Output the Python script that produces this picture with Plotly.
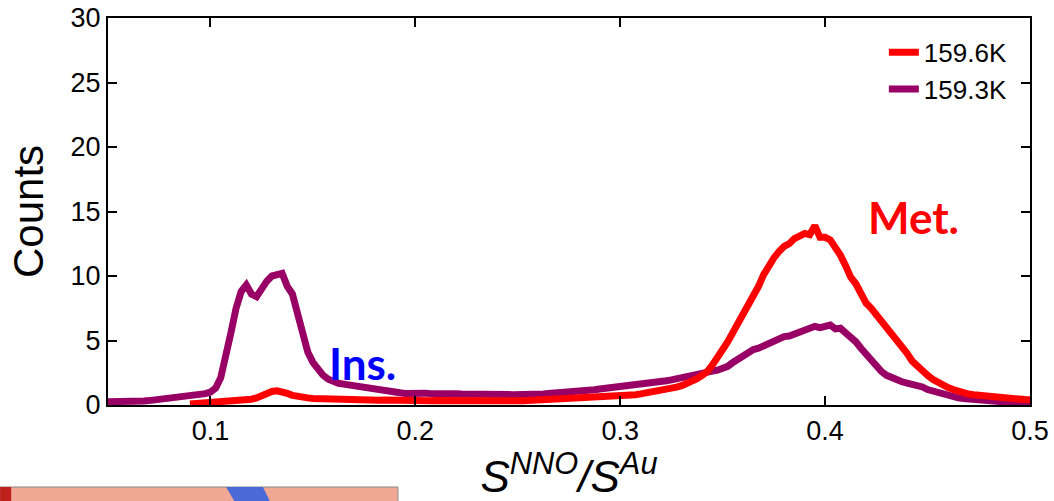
import numpy as np
import plotly.graph_objects as go

# bin centres of the histogram (S_NNO / S_Au)
ratio = np.round(np.arange(0.05, 0.50001, 0.0025), 4)

counts_159_3K = [
    0.25, 0.24, 0.26, 0.25, 0.27, 0.28, 0.30, 0.31, 0.34, 0.38,
    0.42, 0.46, 0.52, 0.55, 0.62, 0.65, 0.70, 0.74, 0.80, 0.88,
    1.0, 1.3, 2.1, 3.6, 5.6, 7.5, 8.8, 9.3, 8.6, 8.4,
    9.1, 9.6, 10.0, 10.1, 10.2, 9.2, 8.6, 7.1, 5.3, 4.1,
    3.3, 2.7, 2.3, 2.0, 1.8, 1.68, 1.62, 1.55, 1.45, 1.42,
    1.32, 1.25, 1.18, 1.12, 1.08, 1.02, 0.98, 0.95, 0.90, 0.93,
    0.95, 0.90, 0.92, 0.88, 0.90, 0.87, 0.89, 0.86, 0.88, 0.85,
    0.86, 0.84, 0.85, 0.82, 0.84, 0.81, 0.83, 0.80, 0.82, 0.79,
    0.78, 0.80, 0.76, 0.79, 0.82, 0.86, 0.90, 0.92, 0.96, 0.98,
    1.02, 1.05, 1.08, 1.12, 1.15, 1.18, 1.24, 1.28, 1.33, 1.36,
    1.40, 1.45, 1.50, 1.55, 1.60, 1.66, 1.72, 1.76, 1.82, 1.88,
    1.95, 2.02, 2.10, 2.20, 2.30, 2.28, 2.40, 2.50, 2.62, 2.70,
    2.80, 3.00, 3.30, 3.55, 3.90, 4.05, 4.30, 4.40, 4.60, 4.75,
    5.00, 5.10, 5.30, 5.35, 5.50, 5.60, 5.70, 5.90, 6.10, 6.00,
    6.10, 6.20, 5.90, 5.95, 5.60, 5.30, 4.90, 4.40, 3.90, 3.50,
    3.00, 2.60, 2.30, 2.10, 1.90, 1.80, 1.70, 1.62, 1.55, 1.40,
    1.20, 1.08, 0.95, 0.82, 0.70, 0.62, 0.55, 0.50, 0.45, 0.41,
    0.38, 0.34, 0.30, 0.29, 0.28, 0.27, 0.27, 0.26, 0.25, 0.25,
    0.25,
]

counts_159_6K = [
    None, None, None, None, None, None, None, None, None, None,
    None, None, None, None, None, None, 0.08, 0.10, 0.13, 0.15,
    0.18, 0.20, 0.22, 0.25, 0.28, 0.30, 0.33, 0.38, 0.45, 0.55,
    0.75, 0.95, 1.05, 1.10, 1.05, 0.90, 0.75, 0.65, 0.60, 0.55,
    0.50, 0.48, 0.46, 0.45, 0.44, 0.42, 0.43, 0.40, 0.41, 0.39,
    0.40, 0.38, 0.39, 0.37, 0.38, 0.36, 0.37, 0.35, 0.36, 0.35,
    0.36, 0.34, 0.35, 0.33, 0.35, 0.34, 0.33, 0.35, 0.32, 0.34,
    0.33, 0.32, 0.34, 0.31, 0.33, 0.32, 0.30, 0.32, 0.31, 0.33,
    0.32, 0.33, 0.35, 0.34, 0.36, 0.37, 0.38, 0.40, 0.41, 0.43,
    0.44, 0.46, 0.47, 0.50, 0.52, 0.55, 0.58, 0.60, 0.63, 0.66,
    0.68, 0.72, 0.76, 0.80, 0.86, 0.92, 1.00, 1.06, 1.14, 1.20,
    1.30, 1.38, 1.50, 1.65, 1.85, 2.05, 2.30, 2.60, 3.10, 3.60,
    4.30, 4.90, 5.60, 6.30, 7.10, 7.70, 8.40, 9.20, 10.1, 10.8,
    11.4, 11.9, 12.3, 12.5, 12.9, 13.1, 13.3, 13.2, 13.9, 13.0,
    13.0, 12.8, 12.3, 11.6, 10.8, 9.9, 9.4, 8.7, 7.9, 7.5,
    7.0, 6.7, 6.2, 5.6, 5.0, 4.6, 4.0, 3.4, 3.0, 2.6,
    2.3, 2.0, 1.75, 1.5, 1.35, 1.2, 1.05, 0.95, 0.85, 0.80,
    0.75, 0.70, 0.65, 0.60, 0.57, 0.54, 0.50, 0.47, 0.44, 0.42,
    0.40,
]

series_names = ["159.6K", "159.3K"]
series_colors = ["#ff0000", "#990066"]
x_ticks = [0.1, 0.2, 0.3, 0.4, 0.5]
y_ticks = [0, 5, 10, 15, 20, 25, 30]

FONT = "Liberation Sans, Arial, Helvetica, sans-serif"

fig = go.Figure()
fig.add_trace(go.Scatter(
    x=ratio, y=counts_159_3K, name=series_names[1], mode="lines",
    line=dict(color=series_colors[1], width=7), legendrank=2,
))
fig.add_trace(go.Scatter(
    x=ratio, y=counts_159_6K, name=series_names[0], mode="lines",
    line=dict(color=series_colors[0], width=7), legendrank=1,
    connectgaps=False,
))

axis_common = dict(
    showline=True, linecolor="black", linewidth=2, mirror="ticks",
    ticks="inside", ticklen=9, tickwidth=2, tickcolor="black",
    showgrid=False, zeroline=False, automargin=False,
    ticklabeloverflow="allow",
    tickfont=dict(family=FONT, size=27, color="black"),
)

fig.update_xaxes(
    range=[0.05, 0.5], tickvals=x_ticks, ticktext=[str(v) for v in x_ticks],
    ticklabelstandoff=1,
    title=dict(
        text="<i>S</i><sup><i>NNO</i></sup><i>/S</i><sup><i>Au</i></sup>",
        font=dict(family=FONT, size=44, color="black"), standoff=12,
    ),
    **axis_common,
)
fig.update_yaxes(
    range=[0, 30], tickvals=y_ticks,
    title=dict(text="Counts", font=dict(family=FONT, size=42, color="black"),
               standoff=14),
    **axis_common,
)

fig.add_annotation(x=0.174, y=3.25, text="<b>Ins.</b>", showarrow=False,
                   font=dict(family="Lato, sans-serif", size=44, color="#0000ff"),
                   xanchor="center", yanchor="middle")
fig.add_annotation(x=0.443, y=14.57, text="<b>Met.</b>", showarrow=False,
                   font=dict(family="Lato, sans-serif", size=44, color="#ff0000"),
                   xanchor="center", yanchor="middle")

# fragment of the neighbouring map panel visible at the bottom-left
fig.add_shape(type="rect", xref="paper", yref="paper",
              x0=-0.117, x1=0.3145, y0=-0.26, y1=-0.2119,
              fillcolor="#f0a894", line=dict(color="#888888", width=1), layer="above")
fig.add_shape(type="rect", xref="paper", yref="paper",
              x0=-0.117, x1=-0.105, y0=-0.26, y1=-0.2119,
              fillcolor="#c0201c", line=dict(width=0), layer="above")
fig.add_shape(type="path", xref="paper", yref="paper",
              path="M 0.128 -0.2119 L 0.168 -0.2119 L 0.178 -0.26 L 0.14 -0.26 Z",
              fillcolor="#4a6ad8", line=dict(width=0), layer="above")

fig.update_layout(
    width=1054, height=501,
    margin=dict(l=108, r=24, t=18, b=96, autoexpand=False),
    paper_bgcolor="white", plot_bgcolor="white",
    showlegend=True,
    legend=dict(x=0.8415, y=0.972, xanchor="left", yanchor="top",
                bgcolor="rgba(0,0,0,0)", borderwidth=0,
                font=dict(family=FONT, size=26, color="black"),
                traceorder="normal"),
)

# remove the default 8px page margin so the figure fills the window exactly
fig.write_html("out.html",
               config={"displayModeBar": False},
               post_script="document.body.style.margin='0';"
                           "document.body.style.overflow='hidden';")
